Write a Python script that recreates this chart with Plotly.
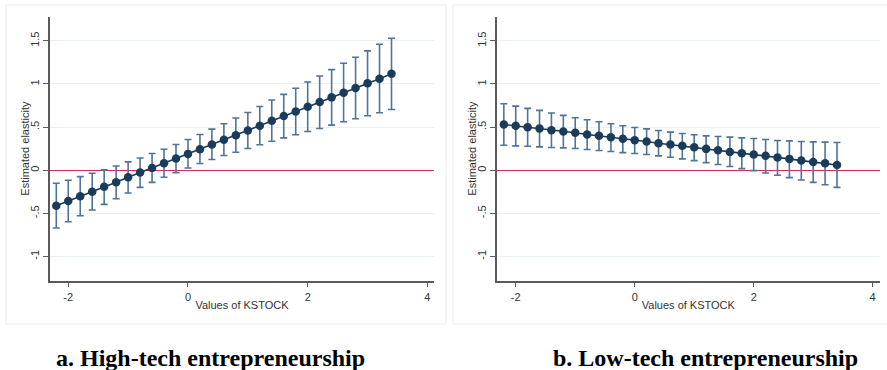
import plotly.graph_objects as go

kstock = [-2.2, -2.0, -1.8, -1.6, -1.4, -1.2, -1.0, -0.8, -0.6, -0.4, -0.2, 0.0, 0.2, 0.4, 0.6,
          0.8, 1.0, 1.2, 1.4, 1.6, 1.8, 2.0, 2.2, 2.4, 2.6, 2.8, 3.0, 3.2, 3.4]

high_est = [-0.41, -0.357, -0.302, -0.248, -0.19, -0.14, -0.081, -0.027, 0.027, 0.081, 0.136, 0.19,
            0.244, 0.298, 0.353, 0.407, 0.461, 0.515, 0.574, 0.628, 0.682, 0.736, 0.79, 0.845,
            0.899, 0.953, 1.008, 1.062, 1.12]
high_upper = [-0.15, -0.116, -0.074, -0.035, 0.005, 0.05, 0.097, 0.143, 0.194, 0.244, 0.298, 0.357,
              0.415, 0.477, 0.539, 0.605, 0.67, 0.74, 0.814, 0.88, 0.95, 1.023, 1.093, 1.167,
              1.24, 1.31, 1.384, 1.461, 1.531]
high_lower = [-0.67, -0.597, -0.527, -0.461, -0.395, -0.33, -0.264, -0.198, -0.14, -0.081, -0.027,
              0.027, 0.078, 0.124, 0.171, 0.209, 0.252, 0.295, 0.337, 0.376, 0.411, 0.45, 0.484,
              0.523, 0.562, 0.597, 0.632, 0.667, 0.705]

low_est = [0.531, 0.516, 0.5, 0.484, 0.465, 0.45, 0.434, 0.415, 0.4, 0.384, 0.364, 0.349, 0.333,
           0.314, 0.298, 0.283, 0.267, 0.248, 0.233, 0.213, 0.198, 0.182, 0.167, 0.147, 0.132,
           0.112, 0.097, 0.081, 0.062]
low_upper = [0.771, 0.744, 0.717, 0.694, 0.663, 0.636, 0.609, 0.585, 0.562, 0.539, 0.516, 0.496,
             0.48, 0.461, 0.442, 0.426, 0.411, 0.399, 0.391, 0.384, 0.376, 0.368, 0.357, 0.345,
             0.341, 0.333, 0.329, 0.326, 0.322]
low_lower = [0.29, 0.283, 0.279, 0.271, 0.264, 0.26, 0.252, 0.24, 0.229, 0.217, 0.205, 0.194, 0.182,
             0.167, 0.151, 0.132, 0.112, 0.089, 0.066, 0.043, 0.019, -0.004, -0.031, -0.058,
             -0.085, -0.112, -0.14, -0.167, -0.198]

y_tickvals = [-1, -0.5, 0, 0.5, 1, 1.5]
y_ticktext = ["-1", "-.5", "0", ".5", "1", "1.5"]
x_tickvals = [-2, 0, 2, 4]
x_ticktext = ["-2", "0", "2", "4"]
captions = ["a. High-tech entrepreneurship", "b. Low-tech entrepreneurship"]
x_title = "Values of KSTOCK"
y_title = "Estimated elasticity"

W, H = 887, 370
MARK = "#1b3b5a"
ERR = "#4f7399"
AXIS = "#5a5a5a"
GRID = "#e9f1f2"

fig = go.Figure()


def add_panel(idx, est, up, lo):
    xa = "x" if idx == 1 else "x2"
    ya = "y" if idx == 1 else "y2"
    plus = [u - e for u, e in zip(up, est)]
    minus = [e - l for e, l in zip(est, lo)]
    fig.add_trace(go.Scatter(
        x=kstock, y=est, mode="lines+markers", xaxis=xa, yaxis=ya,
        line=dict(color=MARK, width=1.6),
        marker=dict(color=MARK, size=8.5),
        error_y=dict(type="data", array=plus, arrayminus=minus, symmetric=False,
                     color=ERR, thickness=1.6, width=3.5),
        showlegend=False, hoverinfo="skip"))


add_panel(1, high_est, high_upper, high_lower)
add_panel(2, low_est, low_upper, low_lower)

font_axis = dict(family="Liberation Sans, Arial, sans-serif", size=11, color="#333333")

y_dom = [(H - 280.7) / H, (H - 16.7) / H]
common_x = dict(tickvals=x_tickvals, ticktext=x_ticktext, showgrid=False, zeroline=False,
                showline=True, linecolor=AXIS, linewidth=1.5, ticks="outside", ticklen=5,
                tickcolor=AXIS, tickwidth=1.2, tickfont=font_axis,
                title=dict(text=x_title, font=font_axis, standoff=0))
common_y = dict(tickvals=y_tickvals, ticktext=y_ticktext, range=[-1.28, 1.78], showgrid=True,
                gridcolor=GRID, gridwidth=1, zeroline=True, zerolinecolor="#dd2a55",
                zerolinewidth=1.4, showline=True, linecolor=AXIS,
                linewidth=1.5, ticks="outside", ticklen=5, tickcolor=AXIS, tickwidth=1.2,
                tickangle=-90, tickfont=font_axis, domain=y_dom)

fig.update_layout(
    width=W, height=H, margin=dict(l=0, r=0, t=0, b=0, autoexpand=False),
    paper_bgcolor="white", plot_bgcolor="white",
    xaxis=dict(domain=[50 / W, 434 / W], range=[-2.305, 4.11], anchor="y", **common_x),
    yaxis=dict(anchor="x", **common_y),
    xaxis2=dict(domain=[496.7 / W, 880 / W], range=[-2.32, 4.123], anchor="y2", **common_x),
    yaxis2=dict(anchor="x2", **common_y),
)

# y-axis titles
for px in (25, 472):
    fig.add_annotation(text=y_title, xref="paper", yref="paper", x=px / W,
                       y=(H - 148.7) / H, showarrow=False, textangle=-90,
                       xanchor="center", yanchor="middle", font=font_axis)

# faint panel frames
for x0, x1 in ((6, 446), (453, 890)):
    fig.add_shape(type="rect", xref="paper", yref="paper",
                  x0=x0 / W, x1=x1 / W, y0=(H - 324) / H, y1=(H - 5) / H,
                  line=dict(color="#e8eef0", width=1), fillcolor="rgba(0,0,0,0)", layer="below")

for txt, cx in zip(captions, (210, 705.5)):
    fig.add_annotation(text="<b>" + txt + "</b>", xref="paper", yref="paper",
                       x=cx / W, y=(H - 358) / H, showarrow=False, xanchor="center",
                       yanchor="middle",
                       font=dict(family="Liberation Serif, Times New Roman, serif", size=24,
                                 color="black"))

fig.write_html("out.html", config={"displayModeBar": False},
               post_script="document.body.style.margin='0';document.body.style.overflow='hidden';")
